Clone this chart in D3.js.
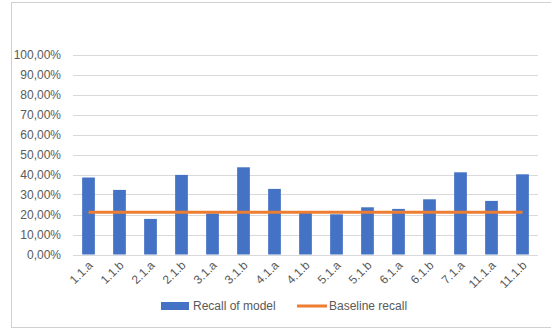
<!DOCTYPE html>
<html><head><meta charset="utf-8">
<script src="https://cdn.jsdelivr.net/npm/d3@7"></script>
<style>body{margin:0;background:#fff}svg{display:block}</style>
</head><body>
<svg id="c" width="551" height="329"></svg>
<script>
const categories = ["1.1.a","1.1.b","2.1.a","2.1.b","3.1.a","3.1.b","4.1.a","4.1.b","5.1.a","5.1.b","6.1.a","6.1.b","7.1.a","11.1.a","11.1.b"];
const recallOfModel = [0.385,0.323,0.178,0.398,0.205,0.436,0.328,0.208,0.201,0.236,0.228,0.276,0.411,0.268,0.401];
const baselineRecall = [0.211,0.211,0.211,0.211,0.211,0.211,0.211,0.211,0.211,0.211,0.211,0.211,0.211,0.211,0.211];
const yTicks = [0,0.1,0.2,0.3,0.4,0.5,0.6,0.7,0.8,0.9,1.0];
const seriesNames = ["Recall of model","Baseline recall"];
const colors = ["#4472C4","#ED7D31"];

const svg = d3.select("#c");
const font = "'Liberation Sans', Arial, sans-serif";
const fs = "12px";
const textColor = "#595959";

svg.append("rect").attr("x",11.5).attr("y",2.5).attr("width",560).attr("height",325)
  .attr("fill","#fff").attr("stroke","#d0d0d0").attr("stroke-width",1);

const x = d3.scaleBand().domain(categories).range([73,538]).paddingInner(0.59).paddingOuter(0.295);
const y = d3.scaleLinear().domain([0,1]).range([254.5,54.5]);

const fmt = v => (v*100).toFixed(2).replace(".",",") + "%";

// gridlines
svg.append("g").selectAll("line").data(yTicks).join("line")
  .attr("x1",73).attr("x2",538).attr("y1",d=>Math.round(y(d))+0.5).attr("y2",d=>Math.round(y(d))+0.5)
  .attr("stroke","#d9d9d9").attr("stroke-width",1);

// y axis labels
const yAxis = d3.axisLeft(y).tickValues(yTicks).tickFormat(fmt).tickSize(0).tickPadding(0);
const ya = svg.append("g").attr("transform","translate(61,0)").call(yAxis);
ya.select(".domain").remove();
ya.selectAll("text").attr("font-family",font).attr("font-size",fs).attr("fill",textColor);

// bars
svg.append("g").selectAll("rect").data(recallOfModel).join("rect")
  .attr("x",(d,i)=>x(categories[i])).attr("width",x.bandwidth())
  .attr("y",d=>y(d)).attr("height",d=>y(0)-y(d)).attr("fill",colors[0]);

// baseline line
const line = d3.line().x((d,i)=>x(categories[i])+x.bandwidth()/2).y(d=>y(d));
svg.append("path").datum(baselineRecall).attr("d",line).attr("fill","none")
  .attr("stroke",colors[1]).attr("stroke-width",3);

// x axis labels
const xAxis = d3.axisBottom(x).tickSize(0).tickPadding(0);
const xa = svg.append("g").attr("transform","translate(0,263)").call(xAxis);
xa.select(".domain").remove();
xa.selectAll("text").attr("font-family",font).attr("font-size",fs).attr("fill",textColor)
  .attr("text-anchor","end").attr("dy","0.35em").attr("transform","translate(2,0) rotate(-45)");

// legend
const lg = svg.append("g");
lg.append("rect").attr("x",161).attr("y",302).attr("width",28).attr("height",8).attr("fill",colors[0]);
lg.append("text").attr("x",193).attr("y",306).attr("dy","0.35em").text(seriesNames[0])
  .attr("font-family",font).attr("font-size",fs).attr("fill",textColor);
lg.append("line").attr("x1",297).attr("x2",327).attr("y1",306).attr("y2",306)
  .attr("stroke",colors[1]).attr("stroke-width",3);
lg.append("text").attr("x",329).attr("y",306).attr("dy","0.35em").text(seriesNames[1])
  .attr("font-family",font).attr("font-size",fs).attr("fill",textColor);
</script>
</body></html>
